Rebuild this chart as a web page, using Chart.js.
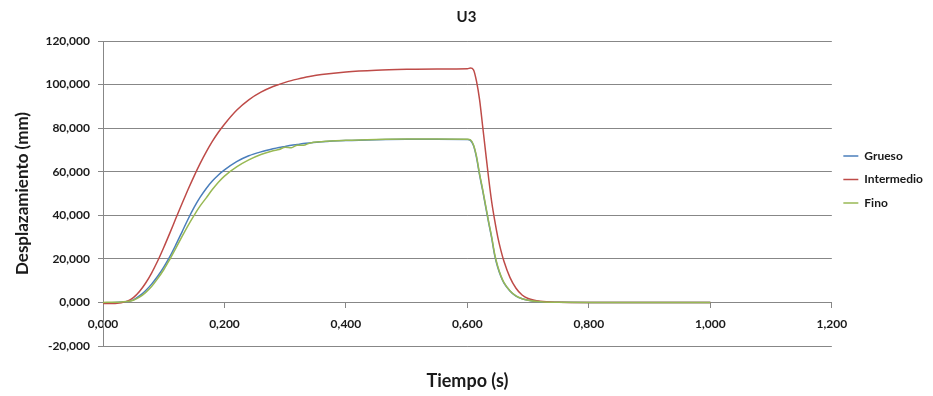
<!DOCTYPE html>
<html>
<head>
<meta charset="utf-8">
<script src="https://cdn.jsdelivr.net/npm/chart.js@4.4.1/dist/chart.umd.min.js"></script>
<style>
  html, body { margin: 0; padding: 0; background: #fff; }
  #wrap { width: 933px; height: 396px; position: relative; }
</style>
</head>
<body>
<div id="wrap"><canvas id="u3Chart"></canvas></div>
<script>
// tiempo (s) shared by the three series
const tiempo = [0, 0.02, 0.04, 0.05, 0.06, 0.07, 0.08, 0.09, 0.10, 0.11, 0.12, 0.13, 0.14, 0.15, 0.16, 0.17, 0.18, 0.19, 0.20,
  0.22, 0.24, 0.26, 0.28, 0.29, 0.30, 0.31, 0.32, 0.33, 0.34, 0.36, 0.40, 0.45, 0.50, 0.55, 0.60,
  0.605, 0.61, 0.615, 0.62, 0.625, 0.63, 0.635, 0.64, 0.645, 0.65, 0.655, 0.66, 0.67, 0.68, 0.69, 0.70, 0.72, 0.75, 0.80, 0.90, 1.00];

// desplazamiento (mm)
const grueso = [-0.2, 0.0, 0.4, 1.2, 3.0, 5.4, 8.4, 12.0, 16.2, 21.0, 26.5, 32.3, 38.2, 43.6, 48.3, 52.3, 55.7, 58.5, 60.8,
  64.6, 67.3, 69.1, 70.5, 71.1, 71.6, 72.1, 72.5, 72.9, 73.2, 73.7, 74.3, 74.7, 74.9, 74.9, 74.8,
  74.4, 72.0, 66.5, 58.5, 51.5, 44.0, 36.5, 29.5, 21.5, 16.0, 12.0, 9.0, 5.3, 2.9, 1.7, 1.0, 0.3, 0.05, 0.0, 0.0, 0.0];

const intermedio = [-0.5, -0.5, 0.6, 2.2, 5.0, 8.8, 13.5, 19.0, 25.2, 31.8, 38.6, 45.3, 51.8, 58.0, 63.8, 69.1, 73.9, 78.1, 81.8,
  88.2, 93.0, 96.5, 99.1, 100.1, 101.0, 101.8, 102.5, 103.15, 103.7, 104.6, 105.8, 106.6, 107.0, 107.2, 107.3,
  107.6, 106.8, 101.5, 93.1, 81.1, 68.9, 56.9, 46.1, 37.5, 30.0, 24.0, 19.0, 11.5, 6.5, 3.4, 1.8, 0.5, 0.1, 0.0, 0.0, 0.0];

const fino = [0.0, 0.1, 0.4, 1.0, 2.4, 4.5, 7.3, 10.9, 15.0, 19.8, 24.9, 30.2, 35.3, 40.0, 44.3, 48.0, 51.8, 55.2, 58.0,
  62.2, 65.4, 67.9, 69.6, 70.2, 71.2, 71.0, 72.2, 72.1, 73.1, 73.8, 74.4, 74.8, 75.0, 75.0, 74.9,
  74.6, 72.3, 67.0, 59.0, 52.0, 44.5, 37.0, 30.0, 22.0, 16.5, 12.3, 9.2, 5.4, 3.0, 1.7, 1.0, 0.3, 0.05, 0.0, 0.0, 0.0];

const seriesNames = ["Grueso", "Intermedio", "Fino"];
const seriesColors = ["#4A7EBB", "#BE4B48", "#98B954"];
const drawOrder = [2, 1, 0]; // Fino painted on top, as in the original

const xMin = 0, xMax = 1.2, xStep = 0.2;
const yMin = -20, yMax = 120, yStep = 20;

const fontFamily = "Lato, 'Open Sans', sans-serif";
const gridColor = "#878787";
const textColor = "#1a1a1a";

const fmt = v => v.toFixed(3).replace(".", ",");

function toPoints(values) {
  return values.map((v, i) => ({ x: tiempo[i], y: v }));
}

// x axis title sits under the plot, Excel style
const xTitlePlugin = {
  id: "xTitle",
  afterDraw(chart) {
    const { ctx, chartArea } = chart;
    ctx.save();
    ctx.font = "bold 18px " + fontFamily;
    ctx.fillStyle = textColor;
    ctx.textAlign = "center";
    ctx.textBaseline = "middle";
    ctx.fillText("Tiempo (s)", (chartArea.left + chartArea.right) / 2, 381);
    ctx.restore();
  },
};

const ctx = document.getElementById("u3Chart").getContext("2d");

new Chart(ctx, {
  type: "line",
  data: {
    datasets: [grueso, intermedio, fino].map((vals, i) => ({
      label: seriesNames[i],
      data: toPoints(vals),
      borderColor: seriesColors[i],
      backgroundColor: seriesColors[i],
      borderWidth: 1.5,
      pointRadius: 0,
      cubicInterpolationMode: "monotone",
      fill: false,
      order: drawOrder[i],
    })),
  },
  options: {
    responsive: true,
    maintainAspectRatio: false,
    animation: false,
    layout: { padding: { top: 0, right: 0, bottom: 50, left: 0 } },
    scales: {
      x: {
        type: "linear",
        position: { y: 0 },
        min: xMin,
        max: xMax,
        ticks: {
          stepSize: xStep,
          color: textColor,
          font: { family: fontFamily, size: 12, weight: "bold" },
          padding: 9,
          maxRotation: 0,
          callback: v => fmt(v),
        },
        grid: { drawOnChartArea: false, drawTicks: true, tickLength: 5, color: gridColor },
        border: { display: true, color: gridColor, width: 1 },
      },
      y: {
        min: yMin,
        max: yMax,
        afterFit(scale) { scale.width = 103; },
        ticks: {
          stepSize: yStep,
          color: textColor,
          font: { family: fontFamily, size: 12, weight: "bold" },
          padding: 8,
          callback: v => fmt(v),
        },
        grid: { color: gridColor, lineWidth: 1, tickLength: 5 },
        border: { display: true, color: gridColor, width: 1 },
        title: {
          display: true,
          text: "Desplazamiento (mm)",
          color: textColor,
          font: { family: fontFamily, size: 17, weight: "bold" },
          padding: { top: 12, bottom: 6 },
        },
      },
    },
    plugins: {
      title: {
        display: true,
        text: "U3",
        color: textColor,
        font: { family: fontFamily, size: 15, weight: "bold" },
        padding: { top: 8, bottom: 15 },
      },
      legend: {
        position: "right",
        // empty title only pushes the entries down a little
        title: { display: true, text: " ", font: { size: 1 }, padding: { top: 6, bottom: 6 } },
        labels: {
          color: textColor,
          font: { family: fontFamily, size: 12, weight: "bold" },
          usePointStyle: true,
          pointStyle: "line",
          pointStyleWidth: 15,
          padding: 11.5,
          sort: (a, b) => a.datasetIndex - b.datasetIndex,
        },
      },
      tooltip: { enabled: false },
    },
  },
  plugins: [xTitlePlugin],
});
</script>
</body>
</html>
